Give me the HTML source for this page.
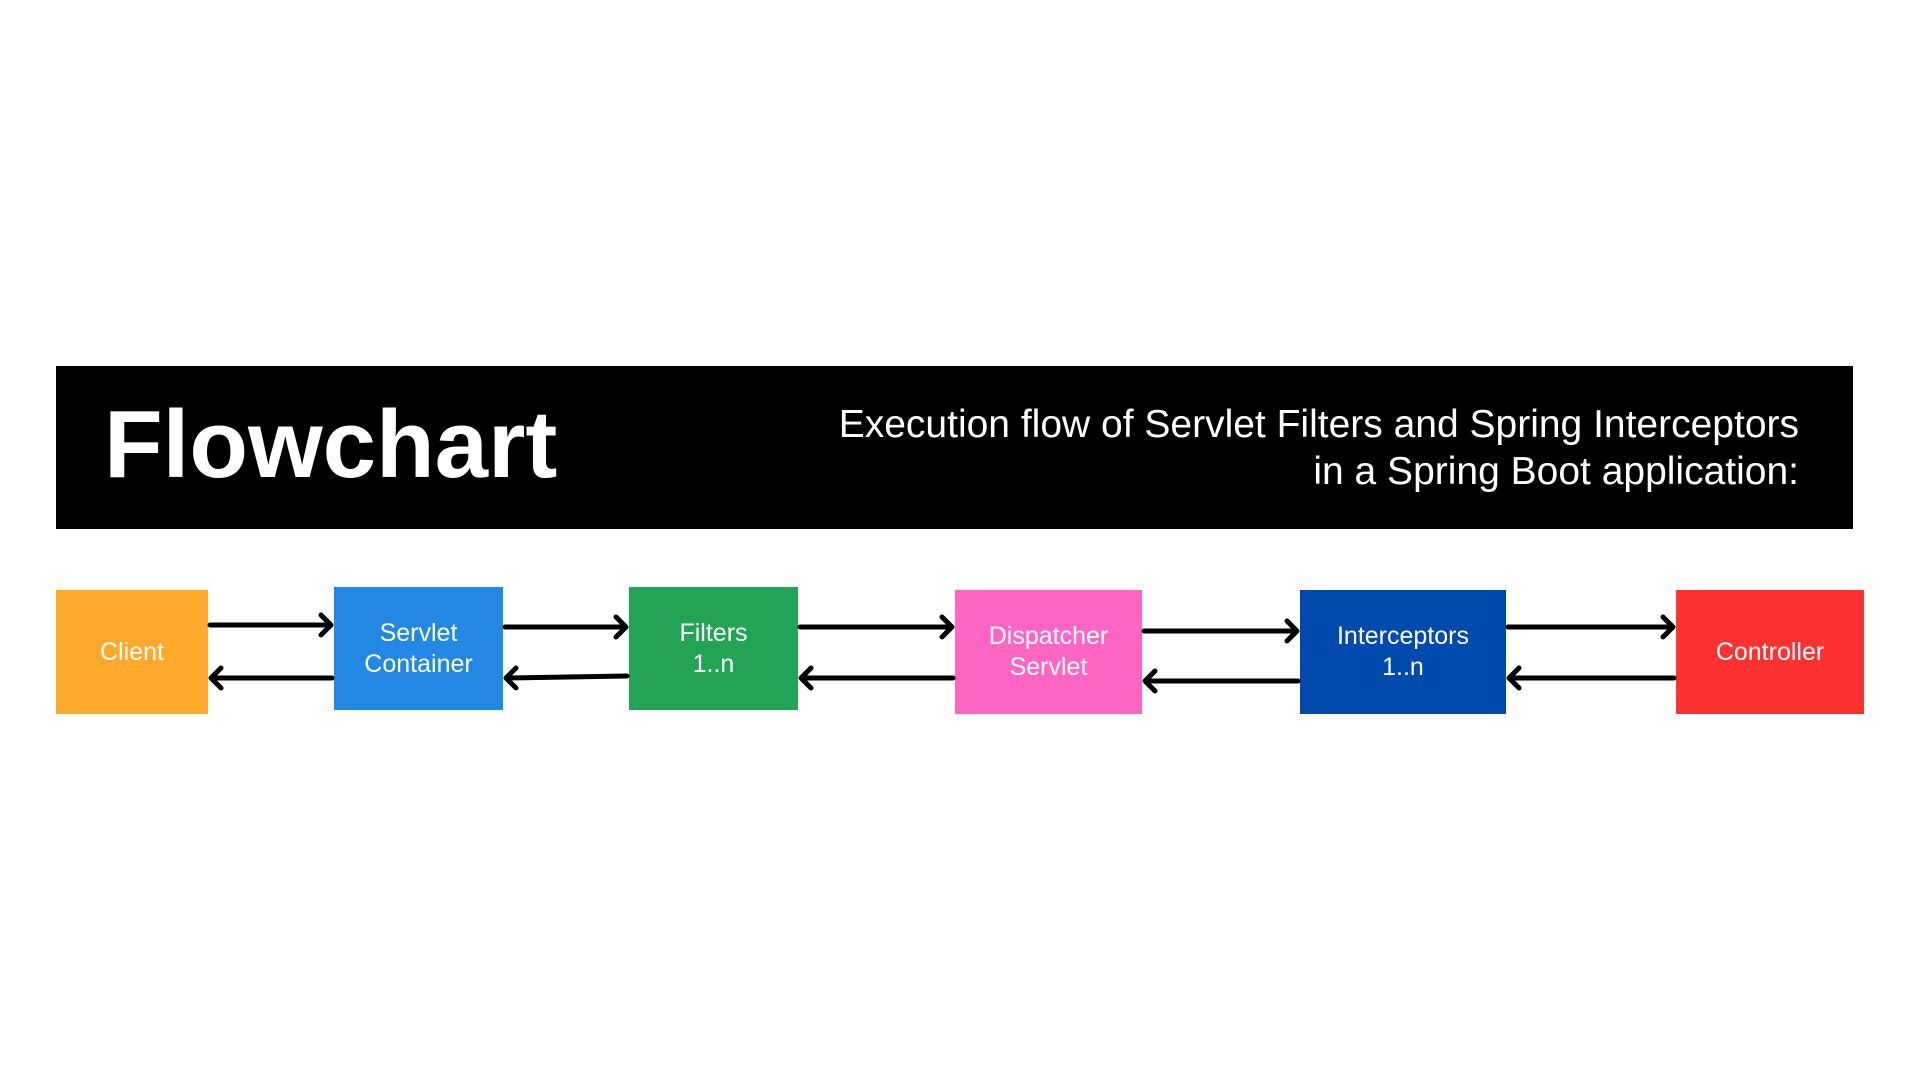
<!DOCTYPE html>
<html><head><meta charset="utf-8"><style>
body{margin:0;width:1920px;height:1080px;background:#fff;position:relative;overflow:hidden;font-family:"Liberation Sans",sans-serif}
.banner{position:absolute;left:56px;top:366px;width:1797px;height:163px;background:#000}
.title{position:absolute;left:104px;top:397px;font-size:96px;font-weight:bold;color:#fff;line-height:1;letter-spacing:0px}
.sub{position:absolute;right:121px;top:401px;text-align:right;color:#fff;font-size:39px;line-height:47px}
.box{position:absolute;display:flex;align-items:center;justify-content:center;text-align:center;color:#fff;font-size:25px;line-height:31px}
</style></head><body>
<div class="banner"></div>
<div class="title">Flowchart</div>
<div class="sub">Execution flow of Servlet Filters and Spring Interceptors<br>in a Spring Boot application:</div>
<div class="box" style="left:56px;top:590px;width:152px;height:124px;background:#FFA92C">Client</div>
<div class="box" style="left:334px;top:587px;width:169px;height:123px;background:#2388E3">Servlet<br>Container</div>
<div class="box" style="left:629px;top:587px;width:169px;height:123px;background:#23A455">Filters<br>1..n</div>
<div class="box" style="left:955px;top:590px;width:187px;height:124px;background:#FF66C4">Dispatcher<br>Servlet</div>
<div class="box" style="left:1300px;top:590px;width:206px;height:124px;background:#004AAD">Interceptors<br>1..n</div>
<div class="box" style="left:1676px;top:590px;width:188px;height:124px;background:#FF3131">Controller</div>
<svg width="1920" height="1080" style="position:absolute;left:0;top:0" fill="none" stroke="#000" stroke-width="5" stroke-linecap="round" stroke-linejoin="round">
<g>
<path d="M210 625H331M321 615L331 625L321 635"/>
<path d="M332 678H211M221 668L211 678L221 688"/>
<path d="M505 627H626M616 617L626 627L616 637"/>
<path d="M627 676L506 678M516 668L506 678L516 688"/>
<path d="M800 627H952M942 617L952 627L942 637"/>
<path d="M953 678H801M811 668L801 678L811 688"/>
<path d="M1144 631H1297M1287 621L1297 631L1287 641"/>
<path d="M1298 681H1145M1155 671L1145 681L1155 691"/>
<path d="M1508 627H1673M1663 617L1673 627L1663 637"/>
<path d="M1674 678H1509M1519 668L1509 678L1519 688"/>
</g></svg>
</body></html>
